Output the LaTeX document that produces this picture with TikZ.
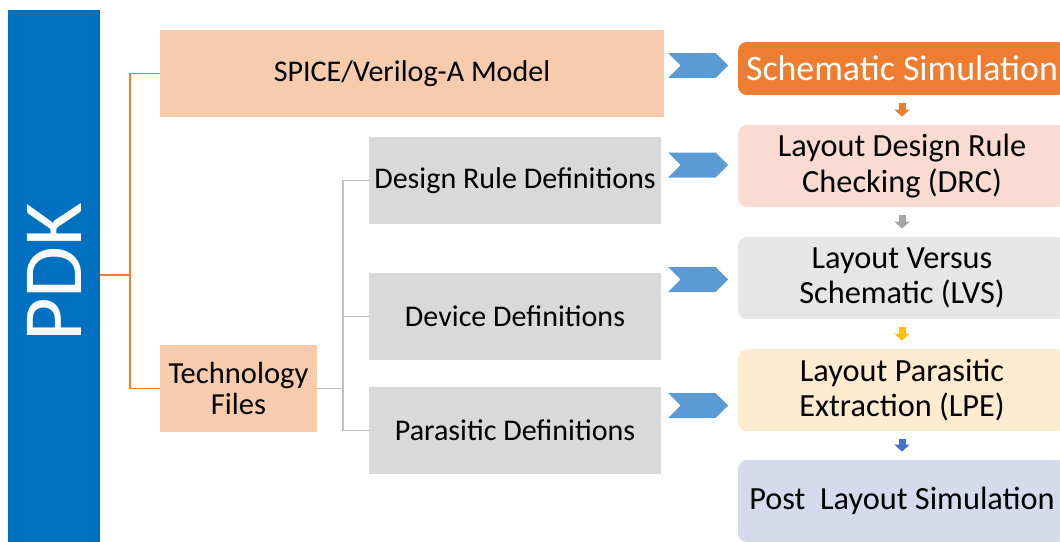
\documentclass[tikz,border=0pt]{standalone}
\usepackage{fontspec}
\setmainfont{Carlito}
\usetikzlibrary{positioning}
\usetikzlibrary{shapes.symbols}
\usetikzlibrary{arrows.meta}

\definecolor{pdkblue}{HTML}{0070C0}
\definecolor{peach}{HTML}{F8CBAD}
\definecolor{defgray}{HTML}{D9D9D9}
\definecolor{linegray}{HTML}{BFBFBF}
\definecolor{accorange}{HTML}{ED7D31}
\definecolor{chevblue}{HTML}{5B9BD5}
\definecolor{drcpink}{HTML}{FADBD2}
\definecolor{lvsgray}{HTML}{E7E6E6}
\definecolor{lpecream}{HTML}{FFEBD0}
\definecolor{postblue}{HTML}{D5DAED}
\definecolor{arrgray}{HTML}{A5A5A5}
\definecolor{arrgold}{HTML}{FFC000}
\definecolor{arrblue}{HTML}{4472C4}

\begin{document}
\begin{tikzpicture}[
    x=0.02cm, y=-0.02cm,
    font=\fontsize{17.1}{20}\selectfont,
    srcbox/.style={rectangle,fill=peach,align=center,minimum height=1.74cm,inner sep=2pt},
    defbox/.style={rectangle,fill=defgray,align=center,minimum width=5.84cm,minimum height=1.74cm,inner sep=2pt},
    flowbox/.style={rectangle,rounded corners=5pt,align=center,minimum width=6.56cm,minimum height=1.64cm,
        font=\fontsize{18.4}{20}\selectfont},
    chevron/.style={signal,signal from=west,signal to=east,signal pointer angle=90,fill=chevblue,
        minimum width=1.2cm,minimum height=0.5cm,inner sep=0pt},
    flowarrow/.style={line width=4pt,-{Triangle[length=4pt,width=8.5pt]},shorten <=0.16cm,shorten >=0.16cm},
    tree/.style={accorange,line width=1pt},
    subtree/.style={linegray,line width=0.8pt}
]
\useasboundingbox (0,0) rectangle (1060,541);

% 左侧 PDK 竖条
\node[rectangle,fill=pdkblue,minimum width=1.84cm,minimum height=10.7cm,inner sep=0pt] (pdk) at (54,277) {};
\node[rotate=90,text=white,font=\fontsize{48}{52}\selectfont] (pdklabel) at (54,272) {PDK};

% 中间模型与工艺文件
\node[srcbox,minimum width=10.08cm] (spice) at (412,73.5) {SPICE/Verilog-A Model};
\node[srcbox,minimum width=3.14cm,font=\fontsize{17.4}{18}\selectfont] (tech) at (238.5,388.5) {Technology\\Files};

\node[defbox] (rule) at (515,180.5) {Design Rule Definitions};
\node[defbox] (device) at (515,316.5) {Device Definitions};
\node[defbox] (para) at (515,430.5) {Parasitic Definitions};

% 右侧设计流程
\node[flowbox,fill=accorange,text=white,minimum height=1.06cm,font=\fontsize{20.4}{22}\selectfont] (sch) at (902,68.5) {Schematic Simulation};
\node[flowbox,fill=drcpink] (drc) at (902,166) {Layout Design Rule\\Checking (DRC)};
\node[flowbox,fill=lvsgray] (lvs) at (902,278) {Layout Versus\\Schematic (LVS)};
\node[flowbox,fill=lpecream] (lpe) at (902,390) {Layout Parasitic\\Extraction (LPE)};
\node[flowbox,fill=postblue] (post) at (902,501) {Post\ \ Layout Simulation};

% 蓝色箭头
\node[chevron] (chv1) at (698,65.5) {};
\node[chevron] (chv2) at (698,165) {};
\node[chevron] (chv3) at (698,279.5) {};
\node[chevron] (chv4) at (698,405.5) {};

% 树形连线
\coordinate (obr) at (130,275);
\draw[tree] (pdk.east |- obr) -- (obr);
\draw[tree] (spice.west) -| (obr);
\draw[tree] (tech.west) -| (obr);

\coordinate (gbr) at (343,388.5);
\draw[subtree] (tech.east) -- (gbr);
\draw[subtree] (rule.west) -| (gbr);
\draw[subtree] (device.west) -| (gbr);
\draw[subtree] (para.west) -| (gbr);

% 流程之间的小箭头
\draw[flowarrow,accorange] (sch) -- (drc);
\draw[flowarrow,arrgray] (drc) -- (lvs);
\draw[flowarrow,arrgold] (lvs) -- (lpe);
\draw[flowarrow,arrblue] (lpe) -- (post);

\end{tikzpicture}
\end{document}
